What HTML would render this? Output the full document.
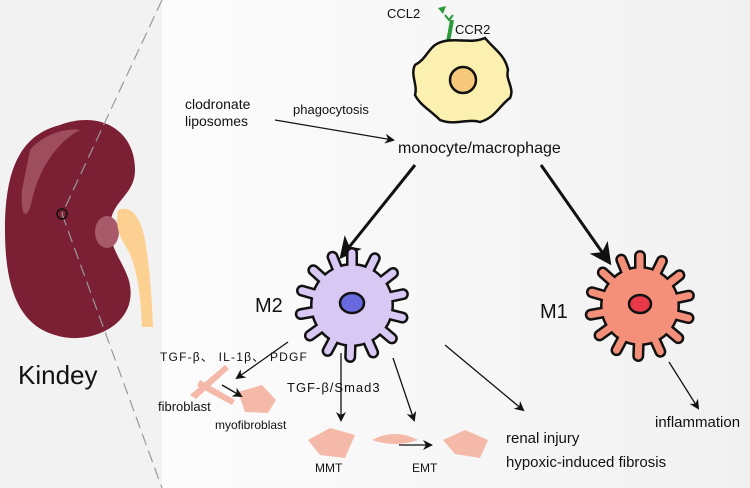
<!DOCTYPE html>
<html><head><meta charset="utf-8"><style>
html,body{margin:0;padding:0;width:750px;height:488px;overflow:hidden;background:#fff}
text{font-family:"Liberation Sans",sans-serif;fill:#111}
</style></head><body>
<svg width="750" height="488" viewBox="0 0 750 488" xmlns="http://www.w3.org/2000/svg">
<defs>
<linearGradient id="bg" x1="0" x2="1" y1="0" y2="0"><stop offset="0" stop-color="#ffffff"/><stop offset="1" stop-color="#f1f1f1"/></linearGradient>
<marker id="ah" markerWidth="10" markerHeight="10" refX="8" refY="5" orient="auto" markerUnits="userSpaceOnUse"><path d="M0,0 L10,5 L0,10 L3,5 z" fill="#111"/></marker>
<marker id="ahb" markerWidth="22" markerHeight="22" refX="18" refY="11" orient="auto" markerUnits="userSpaceOnUse"><path d="M0,0 L22,11 L0,22 L6,11 z" fill="#111"/></marker>
</defs>
<rect x="0" y="0" width="750" height="488" fill="url(#bg)"/>
<rect x="0" y="0" width="162" height="488" fill="#f2f2f2"/>

<path d="M60,125 C100,110 135,130 135,170 C135,195 112,200 110,225 C108,255 135,270 130,300 C125,330 85,345 55,335 C20,325 5,290 5,230 C5,170 20,135 60,125 Z" fill="#7b1f35"/>
<path d="M30,150 C45,132 70,128 80,130 C60,140 40,165 32,200 C28,220 20,220 22,190 Z" fill="#a8596a" opacity="0.8"/>
<ellipse cx="107" cy="232" rx="12" ry="16" fill="#a8596a"/>
<path d="M118,210 C130,205 140,215 145,240 C150,270 152,300 153,327 L142,327 C141,300 138,270 128,250 C120,238 115,228 118,210 Z" fill="#fcd090"/>
<line x1="162" y1="0" x2="62" y2="214" stroke="#999" stroke-width="1.2" stroke-dasharray="12,6"/>
<line x1="62" y1="214" x2="162" y2="488" stroke="#999" stroke-width="1.2" stroke-dasharray="12,6"/>
<circle cx="62" cy="214" r="5" fill="none" stroke="#111" stroke-width="1.5"/>
<text x="18" y="384" font-size="26">Kindey</text>

<line x1="448" y1="42" x2="452" y2="20" stroke="#2a9a3c" stroke-width="4"/>
<path d="M438,8 L446,6 L443,14 Z" fill="#2a9a3c"/>
<path d="M445,15 l4,5 l4,-5" fill="none" stroke="#2a9a3c" stroke-width="2"/>
<path d="M435,45 C450,35 470,45 485,38 C495,50 505,55 508,70 C505,80 515,88 510,98 C500,105 495,118 480,122 C468,118 455,126 440,120 C430,110 420,105 415,95 C418,85 410,75 415,65 C425,60 428,50 435,45 Z" fill="#fbf0b0" stroke="#111" stroke-width="2.5"/>
<circle cx="463" cy="80" r="13" fill="#f6c87c" stroke="#111" stroke-width="2.5"/>
<text x="387" y="18" font-size="13">CCL2</text>
<text x="455" y="34" font-size="13">CCR2</text>

<text x="185" y="109" font-size="14">clodronate</text>
<text x="185" y="126" font-size="14">liposomes</text>
<text x="293" y="114" font-size="13">phagocytosis</text>
<line x1="275" y1="120" x2="393" y2="140" stroke="#111" stroke-width="1.2" marker-end="url(#ah)"/>
<text x="398" y="153" font-size="16">monocyte/macrophage</text>

<line x1="415" y1="165" x2="342" y2="256" stroke="#111" stroke-width="3" marker-end="url(#ahb)"/>
<line x1="541" y1="165" x2="609" y2="262" stroke="#111" stroke-width="3" marker-end="url(#ahb)"/>

<g transform="translate(352,305)">
<g stroke="#111" stroke-width="12" stroke-linecap="round">
<line x1="0" y1="0" x2="0" y2="-52"/><line x1="0" y1="0" x2="0" y2="-52" transform="rotate(26)"/><line x1="0" y1="0" x2="0" y2="-52" transform="rotate(52)"/><line x1="0" y1="0" x2="0" y2="-52" transform="rotate(78)"/><line x1="0" y1="0" x2="0" y2="-52" transform="rotate(104)"/><line x1="0" y1="0" x2="0" y2="-52" transform="rotate(130)"/><line x1="0" y1="0" x2="0" y2="-52" transform="rotate(156)"/><line x1="0" y1="0" x2="0" y2="-52" transform="rotate(182)"/><line x1="0" y1="0" x2="0" y2="-52" transform="rotate(208)"/><line x1="0" y1="0" x2="0" y2="-52" transform="rotate(234)"/><line x1="0" y1="0" x2="0" y2="-52" transform="rotate(260)"/><line x1="0" y1="0" x2="0" y2="-52" transform="rotate(286)"/><line x1="0" y1="0" x2="0" y2="-52" transform="rotate(312)"/><line x1="0" y1="0" x2="0" y2="-52" transform="rotate(338)"/>
</g>
<circle r="42" fill="#111"/>
<g stroke="#d8c8f4" stroke-width="7" stroke-linecap="round">
<line x1="0" y1="0" x2="0" y2="-52"/><line x1="0" y1="0" x2="0" y2="-52" transform="rotate(26)"/><line x1="0" y1="0" x2="0" y2="-52" transform="rotate(52)"/><line x1="0" y1="0" x2="0" y2="-52" transform="rotate(78)"/><line x1="0" y1="0" x2="0" y2="-52" transform="rotate(104)"/><line x1="0" y1="0" x2="0" y2="-52" transform="rotate(130)"/><line x1="0" y1="0" x2="0" y2="-52" transform="rotate(156)"/><line x1="0" y1="0" x2="0" y2="-52" transform="rotate(182)"/><line x1="0" y1="0" x2="0" y2="-52" transform="rotate(208)"/><line x1="0" y1="0" x2="0" y2="-52" transform="rotate(234)"/><line x1="0" y1="0" x2="0" y2="-52" transform="rotate(260)"/><line x1="0" y1="0" x2="0" y2="-52" transform="rotate(286)"/><line x1="0" y1="0" x2="0" y2="-52" transform="rotate(312)"/><line x1="0" y1="0" x2="0" y2="-52" transform="rotate(338)"/>
</g>
<circle r="39.5" fill="#d8c8f4"/>
<ellipse cx="0" cy="-2" rx="12" ry="10" fill="#6a6ae0" stroke="#111" stroke-width="2.5"/>
</g>
<text x="255" y="312" font-size="20">M2</text>

<g transform="translate(640,306)">
<g stroke="#111" stroke-width="12" stroke-linecap="round">
<line x1="0" y1="0" x2="0" y2="-50"/><line x1="0" y1="0" x2="0" y2="-50" transform="rotate(26)"/><line x1="0" y1="0" x2="0" y2="-50" transform="rotate(52)"/><line x1="0" y1="0" x2="0" y2="-50" transform="rotate(78)"/><line x1="0" y1="0" x2="0" y2="-50" transform="rotate(104)"/><line x1="0" y1="0" x2="0" y2="-50" transform="rotate(130)"/><line x1="0" y1="0" x2="0" y2="-50" transform="rotate(156)"/><line x1="0" y1="0" x2="0" y2="-50" transform="rotate(182)"/><line x1="0" y1="0" x2="0" y2="-50" transform="rotate(208)"/><line x1="0" y1="0" x2="0" y2="-50" transform="rotate(234)"/><line x1="0" y1="0" x2="0" y2="-50" transform="rotate(260)"/><line x1="0" y1="0" x2="0" y2="-50" transform="rotate(286)"/><line x1="0" y1="0" x2="0" y2="-50" transform="rotate(312)"/><line x1="0" y1="0" x2="0" y2="-50" transform="rotate(338)"/>
</g>
<circle r="40" fill="#111"/>
<g stroke="#f4907a" stroke-width="7" stroke-linecap="round">
<line x1="0" y1="0" x2="0" y2="-50"/><line x1="0" y1="0" x2="0" y2="-50" transform="rotate(26)"/><line x1="0" y1="0" x2="0" y2="-50" transform="rotate(52)"/><line x1="0" y1="0" x2="0" y2="-50" transform="rotate(78)"/><line x1="0" y1="0" x2="0" y2="-50" transform="rotate(104)"/><line x1="0" y1="0" x2="0" y2="-50" transform="rotate(130)"/><line x1="0" y1="0" x2="0" y2="-50" transform="rotate(156)"/><line x1="0" y1="0" x2="0" y2="-50" transform="rotate(182)"/><line x1="0" y1="0" x2="0" y2="-50" transform="rotate(208)"/><line x1="0" y1="0" x2="0" y2="-50" transform="rotate(234)"/><line x1="0" y1="0" x2="0" y2="-50" transform="rotate(260)"/><line x1="0" y1="0" x2="0" y2="-50" transform="rotate(286)"/><line x1="0" y1="0" x2="0" y2="-50" transform="rotate(312)"/><line x1="0" y1="0" x2="0" y2="-50" transform="rotate(338)"/>
</g>
<circle r="37.5" fill="#f4907a"/>
<ellipse cx="0" cy="-2" rx="11" ry="9" fill="#e8394a" stroke="#111" stroke-width="2.5"/>
</g>
<text x="540" y="318" font-size="20">M1</text>

<text x="160" y="361" font-size="12" letter-spacing="1.2">TGF-β、 IL-1β、 PDGF</text>
<text x="287" y="392" font-size="13" letter-spacing="1">TGF-β/Smad3</text>
<text x="158" y="411" font-size="13">fibroblast</text>
<text x="215" y="429" font-size="12">myofibroblast</text>
<text x="315" y="472" font-size="12">MMT</text>
<text x="412" y="472" font-size="12">EMT</text>
<text x="506" y="443" font-size="15">renal injury</text>
<text x="506" y="467" font-size="15">hypoxic-induced fibrosis</text>
<text x="655" y="427" font-size="15">inflammation</text>

<g fill="#f4b9a8">
<path d="M190,395 L225,365 L229,369 L196,399 Z"/>
<path d="M200,380 L235,400 L232,405 L197,386 Z"/>
<path d="M238,392 L262,385 L276,400 L268,413 L245,412 Z"/>
<path d="M308,440 L330,428 L355,435 L345,458 L320,455 Z"/>
<path d="M372,440 Q395,428 418,440 Q395,448 372,440 Z"/>
<path d="M443,440 L465,430 L488,440 L480,458 L455,454 Z"/>
</g>

<g stroke="#111" stroke-width="1.3" fill="none">
<line x1="288" y1="342" x2="237" y2="378" marker-end="url(#ah)"/>
<line x1="222" y1="385" x2="241" y2="396" marker-end="url(#ah)"/>
<line x1="341" y1="353" x2="341" y2="420" marker-end="url(#ah)"/>
<line x1="393" y1="358" x2="414" y2="420" marker-end="url(#ah)"/>
<line x1="445" y1="345" x2="523" y2="410" marker-end="url(#ah)"/>
<line x1="399" y1="445" x2="431" y2="445" marker-end="url(#ah)"/>
<line x1="669" y1="362" x2="698" y2="408" marker-end="url(#ah)"/>
</g>
</svg>
</body></html>
